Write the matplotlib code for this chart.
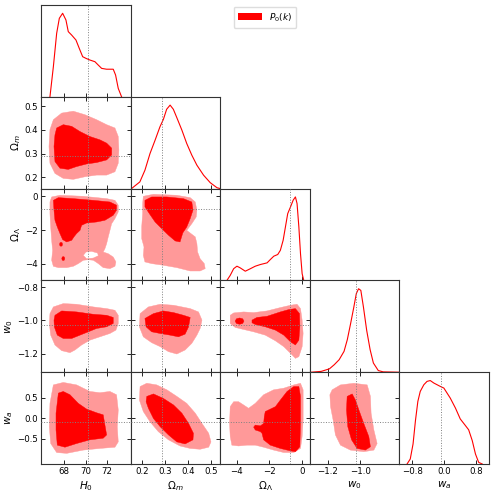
import numpy as np
import matplotlib.pyplot as plt
from matplotlib.path import Path
from matplotlib.patches import PathPatch, Patch

# parameters
labels = [r'$H_0$', r'$\Omega_m$', r'$\Omega_\Lambda$', r'$w_0$', r'$w_a$']
limits = [(65.82, 74.23), (0.152, 0.54), (-5.0, 0.47), (-1.31, -0.76), (-1.12, 1.12)]
fiducial = [70.2, 0.29, -0.77, -1.025, -0.09]
xticks = [[68, 70, 72], [0.2, 0.3, 0.4, 0.5], [-4, -2, 0], [-1.2, -1.0], [-0.8, 0.0, 0.8]]
yticks = [[], [0.2, 0.3, 0.4, 0.5], [-4, -2, 0], [-1.2, -1.0, -0.8], [-0.5, 0.0, 0.5]]

# 1D marginals (normalised to peak = 1)
h0_x = [66.66, 66.98, 67.29, 67.54, 67.85, 68.16, 68.38, 68.69, 69.10, 69.41, 69.73,
        70.04, 70.41, 70.88, 71.19, 71.51, 71.97, 72.60, 72.82, 73.07, 73.38]
h0_pdf = [0.0, 0.36, 0.76, 0.94, 1.0, 0.92, 0.78, 0.74, 0.68, 0.58, 0.48,
          0.46, 0.44, 0.42, 0.38, 0.34, 0.33, 0.33, 0.26, 0.10, 0.0]
om_x = [0.156, 0.192, 0.214, 0.236, 0.258, 0.279, 0.294, 0.308, 0.323, 0.337, 0.352,
        0.374, 0.395, 0.417, 0.439, 0.468, 0.497, 0.526, 0.54]
om_pdf = [0.0, 0.08, 0.22, 0.42, 0.58, 0.74, 0.83, 0.95, 1.0, 0.95, 0.85,
          0.70, 0.54, 0.40, 0.28, 0.16, 0.07, 0.01, 0.0]
ol_x = [-4.59, -4.39, -4.18, -3.98, -3.78, -3.47, -3.16, -2.86, -2.55, -2.14, -1.94,
        -1.73, -1.49, -1.33, -1.16, -1.02, -0.88, -0.71, -0.55, -0.41, -0.31, -0.20,
        -0.10, 0.0, 0.10]
ol_pdf = [0.0, 0.06, 0.14, 0.17, 0.15, 0.11, 0.14, 0.17, 0.19, 0.21, 0.25,
          0.29, 0.31, 0.36, 0.48, 0.64, 0.80, 0.88, 0.96, 1.0, 0.92, 0.64,
          0.32, 0.08, 0.0]
w0_x = [-1.30, -1.24, -1.19, -1.16, -1.13, -1.10, -1.08, -1.06, -1.04, -1.025, -1.011,
        -0.997, -0.981, -0.961, -0.940, -0.920, -0.890, -0.860, -0.765]
w0_pdf = [0.0, 0.01, 0.04, 0.09, 0.15, 0.25, 0.39, 0.58, 0.78, 0.94, 1.0,
          0.98, 0.78, 0.50, 0.27, 0.11, 0.02, 0.004, 0.0]
wa_x = [-0.93, -0.85, -0.78, -0.72, -0.66, -0.60, -0.51, -0.43, -0.35, -0.26, -0.18,
        -0.10, -0.01, 0.07, 0.15, 0.28, 0.40, 0.53, 0.61, 0.70, 0.78, 0.86, 0.95]
wa_pdf = [0.0, 0.06, 0.24, 0.52, 0.75, 0.87, 0.95, 0.99, 1.0, 0.97, 0.95,
          0.93, 0.91, 0.85, 0.79, 0.67, 0.54, 0.46, 0.41, 0.28, 0.12, 0.02, 0.0]

# 2D contours (outer = 95%, inner = 68%)
h0_om_outer = [(66.98, 0.443), (67.76, 0.471), (68.85, 0.479), (69.95, 0.464), (71.04, 0.443),
               (71.98, 0.422), (72.76, 0.408), (73.07, 0.372), (73.13, 0.315), (73.07, 0.259),
               (72.76, 0.223), (71.98, 0.209), (71.04, 0.209), (69.95, 0.202), (68.85, 0.191),
               (67.91, 0.195), (67.13, 0.216), (66.66, 0.259), (66.57, 0.330), (66.66, 0.401)]
h0_om_inner = [(67.29, 0.408), (67.91, 0.422), (68.70, 0.415), (69.48, 0.393), (70.41, 0.372),
               (71.35, 0.358), (71.98, 0.344), (72.45, 0.323), (72.45, 0.294), (71.98, 0.273),
               (71.04, 0.262), (70.10, 0.256), (69.16, 0.245), (68.38, 0.233), (67.60, 0.238),
               (67.13, 0.266), (67.04, 0.330), (67.13, 0.379)]

h0_ol_outer = [(66.82, -0.03), (67.60, 0.07), (69.79, 0.01), (71.98, -0.13), (72.76, -0.23),
               (73.07, -0.52), (73.07, -0.92), (72.76, -1.32), (72.45, -1.62), (72.29, -2.02),
               (72.13, -2.41), (71.98, -2.81), (71.82, -3.11), (71.66, -3.31), (72.13, -3.41),
               (72.60, -3.61), (72.85, -3.90), (72.76, -4.16), (72.29, -4.30), (71.66, -4.24),
               (71.20, -4.00), (70.73, -3.80), (70.26, -3.77), (69.79, -3.80), (69.32, -4.00),
               (68.85, -4.16), (68.23, -4.24), (67.45, -4.24), (66.98, -4.16), (66.82, -3.80),
               (66.91, -3.21), (66.82, -2.61), (66.73, -1.82), (66.66, -1.02), (66.66, -0.33)]
h0_ol_hole = [(69.79, -3.51), (70.04, -3.31), (70.57, -3.27), (71.13, -3.37), (71.20, -3.53),
              (70.73, -3.67), (70.10, -3.71)]
h0_ol_inner = [(66.98, -0.23), (67.45, -0.07), (68.85, -0.13), (70.73, -0.23), (72.29, -0.33),
               (72.91, -0.52), (72.91, -0.82), (72.60, -1.12), (71.82, -1.42), (71.04, -1.52),
               (70.10, -1.58), (69.63, -1.72), (69.48, -2.02), (69.16, -2.21), (68.91, -2.41),
               (68.70, -2.61), (68.23, -2.71), (67.85, -2.57), (67.60, -2.21), (67.35, -1.82),
               (67.13, -1.42), (67.04, -0.82)]
h0_ol_island1 = [(67.56, -2.85), (67.60, -2.76), (67.70, -2.73), (67.80, -2.76), (67.84, -2.85),
                 (67.80, -2.94), (67.70, -2.97), (67.60, -2.94)]
h0_ol_island2 = [(67.77, -3.70), (67.81, -3.61), (67.91, -3.58), (68.01, -3.61), (68.05, -3.70),
                 (68.01, -3.79), (67.91, -3.82), (67.81, -3.79)]

om_ol_outer = [(0.207, 0.01), (0.251, 0.13), (0.352, 0.07), (0.410, -0.07), (0.432, -0.33),
               (0.439, -0.82), (0.436, -1.22), (0.417, -1.62), (0.395, -2.02), (0.432, -2.41),
               (0.439, -2.81), (0.442, -3.31), (0.453, -3.71), (0.471, -4.00), (0.475, -4.30),
               (0.453, -4.44), (0.410, -4.44), (0.352, -4.24), (0.294, -4.10), (0.243, -4.00),
               (0.214, -3.90), (0.207, -3.51), (0.210, -3.01), (0.200, -2.51), (0.200, -1.82),
               (0.204, -1.02), (0.204, -0.43)]
om_ol_inner = [(0.214, -0.23), (0.243, -0.03), (0.309, -0.03), (0.381, -0.13), (0.417, -0.33),
               (0.422, -0.82), (0.410, -1.32), (0.395, -1.82), (0.378, -2.17), (0.366, -2.71),
               (0.345, -2.65), (0.316, -2.31), (0.287, -1.92), (0.258, -1.52), (0.233, -1.02),
               (0.214, -0.62)]

h0_w0_outer = [(66.98, -0.919), (67.91, -0.899), (69.16, -0.903), (70.73, -0.919), (71.98, -0.929),
               (72.76, -0.939), (73.07, -0.969), (73.07, -1.018), (72.85, -1.058), (72.29, -1.078),
               (71.35, -1.098), (70.41, -1.118), (69.63, -1.147), (69.01, -1.177), (68.54, -1.193),
               (67.76, -1.181), (67.13, -1.147), (66.73, -1.088), (66.60, -1.018), (66.66, -0.959)]
h0_w0_inner = [(67.13, -0.969), (67.76, -0.943), (69.16, -0.949), (70.73, -0.963), (71.98, -0.969),
               (72.60, -0.982), (72.60, -1.018), (71.98, -1.038), (71.04, -1.048), (70.26, -1.068),
               (69.48, -1.088), (68.70, -1.108), (67.91, -1.108), (67.35, -1.088), (67.07, -1.038),
               (67.04, -0.998)]

om_w0_outer = [(0.193, -0.959), (0.229, -0.919), (0.280, -0.903), (0.338, -0.909), (0.410, -0.929),
               (0.446, -0.949), (0.461, -0.998), (0.453, -1.048), (0.439, -1.088), (0.417, -1.137),
               (0.388, -1.177), (0.352, -1.201), (0.316, -1.187), (0.280, -1.157), (0.243, -1.133),
               (0.207, -1.098), (0.190, -1.038)]
om_w0_inner = [(0.214, -0.988), (0.251, -0.959), (0.294, -0.943), (0.338, -0.953), (0.381, -0.969),
               (0.410, -0.982), (0.403, -1.038), (0.388, -1.082), (0.359, -1.098), (0.323, -1.088),
               (0.280, -1.078), (0.243, -1.068), (0.219, -1.038)]

ol_w0_outer = [(-4.39, -0.969), (-4.18, -0.955), (-3.57, -0.949), (-2.96, -0.953), (-2.14, -0.943),
               (-1.33, -0.923), (-0.71, -0.909), (-0.31, -0.903), (-0.10, -0.929), (0.0, -0.998),
               (0.06, -1.078), (0.0, -1.157), (-0.20, -1.217), (-0.41, -1.227), (-0.71, -1.197),
               (-1.12, -1.157), (-1.63, -1.122), (-2.25, -1.088), (-2.96, -1.068), (-3.57, -1.054),
               (-4.08, -1.042), (-4.39, -1.018)]
ol_w0_inner = [(-3.06, -0.998), (-2.76, -0.982), (-2.14, -0.975), (-1.33, -0.949), (-0.82, -0.935),
               (-0.41, -0.929), (-0.16, -0.959), (-0.14, -1.038), (-0.20, -1.118), (-0.41, -1.147),
               (-0.71, -1.128), (-1.12, -1.088), (-1.63, -1.058), (-2.25, -1.038), (-2.86, -1.024),
               (-3.06, -1.014)]
ol_w0_island = [(-4.09, -1.004), (-4.01, -0.990), (-3.82, -0.985), (-3.63, -0.990), (-3.55, -1.004),
                (-3.63, -1.018), (-3.82, -1.023), (-4.01, -1.018)]

h0_wa_outer = [(66.98, 0.81), (67.91, 0.87), (69.16, 0.81), (70.41, 0.65), (71.35, 0.62),
               (72.29, 0.65), (72.91, 0.57), (73.07, 0.20), (72.98, -0.21), (73.07, -0.58),
               (72.76, -0.71), (71.35, -0.74), (69.79, -0.78), (68.23, -0.86), (67.29, -0.84),
               (66.73, -0.62), (66.60, -0.21), (66.66, 0.36)]
h0_wa_inner = [(67.45, 0.61), (67.91, 0.65), (68.54, 0.57), (69.32, 0.36), (70.10, 0.22),
               (71.04, 0.13), (71.66, 0.08), (71.82, -0.17), (71.98, -0.41), (71.66, -0.49),
               (70.41, -0.53), (69.16, -0.62), (68.07, -0.71), (67.35, -0.66), (67.23, -0.29),
               (67.23, 0.12)]

om_wa_outer = [(0.193, 0.77), (0.222, 0.85), (0.265, 0.81), (0.309, 0.69), (0.352, 0.53),
               (0.395, 0.36), (0.432, 0.12), (0.461, -0.13), (0.490, -0.37), (0.500, -0.58),
               (0.490, -0.71), (0.453, -0.76), (0.410, -0.74), (0.366, -0.68), (0.316, -0.53),
               (0.272, -0.33), (0.236, -0.09), (0.207, 0.16), (0.190, 0.44)]
om_wa_inner = [(0.222, 0.53), (0.251, 0.59), (0.294, 0.48), (0.338, 0.32), (0.374, 0.12),
               (0.403, -0.13), (0.424, -0.37), (0.422, -0.53), (0.388, -0.63), (0.352, -0.58),
               (0.316, -0.41), (0.280, -0.21), (0.251, -0.01), (0.229, 0.24), (0.219, 0.40)]

ol_wa_outer = [(-4.39, 0.28), (-4.18, 0.40), (-3.88, 0.40), (-3.57, 0.32), (-3.27, 0.24),
               (-2.86, 0.36), (-2.35, 0.57), (-1.74, 0.69), (-1.12, 0.73), (-0.51, 0.81),
               (-0.10, 0.85), (0.06, 0.69), (0.06, -0.05), (0.0, -0.45), (-0.10, -0.74),
               (-0.51, -0.84), (-1.12, -0.84), (-1.74, -0.78), (-2.35, -0.71), (-2.86, -0.66),
               (-3.37, -0.66), (-3.88, -0.68), (-4.29, -0.66), (-4.39, -0.45), (-4.43, -0.13)]
ol_wa_inner = [(-2.25, 0.16), (-1.94, 0.22), (-1.63, 0.28), (-1.33, 0.44), (-0.92, 0.65),
               (-0.51, 0.77), (-0.20, 0.77), (-0.10, 0.53), (-0.10, -0.13), (-0.14, -0.70),
               (-0.41, -0.82), (-0.71, -0.80), (-1.33, -0.74), (-1.94, -0.66), (-2.35, -0.53),
               (-2.45, -0.37), (-2.55, -0.33), (-2.86, -0.29), (-2.96, -0.22), (-2.86, -0.17),
               (-2.55, -0.19), (-2.35, -0.13), (-2.31, 0.04)]

w0_wa_outer = [(-1.173, 0.69), (-1.122, 0.81), (-1.040, 0.85), (-0.958, 0.81), (-0.938, 0.53),
               (-0.934, 0.12), (-0.917, -0.29), (-0.897, -0.62), (-0.917, -0.78), (-0.979, -0.82),
               (-1.061, -0.78), (-1.122, -0.66), (-1.153, -0.41), (-1.167, -0.05), (-1.183, 0.28),
               (-1.187, 0.57)]
w0_wa_inner = [(-1.081, 0.53), (-1.050, 0.59), (-1.030, 0.44), (-1.009, 0.20), (-0.979, -0.13),
               (-0.948, -0.45), (-0.938, -0.70), (-0.969, -0.78), (-1.020, -0.74), (-1.054, -0.53),
               (-1.077, -0.21), (-1.085, 0.20)]

LIGHT = '#ff9999'
DARK = '#ff0000'


def ring_area(ring):
    x, y = ring[:, 0], ring[:, 1]
    return 0.5 * np.sum(x * np.roll(y, -1) - np.roll(x, -1) * y)


def fill_region(ax, outer, color, holes=()):
    """fill a closed contour, optionally with holes cut out"""
    verts, codes = [], []
    for k, ring in enumerate([outer, *holes]):
        ring = np.asarray(ring, float)
        if (k == 0) != (ring_area(ring) > 0):
            ring = ring[::-1]
        verts.extend(ring.tolist() + [ring[0].tolist()])
        codes.extend([Path.MOVETO] + [Path.LINETO] * (len(ring) - 1) + [Path.CLOSEPOLY])
    ax.add_patch(PathPatch(Path(verts, codes), facecolor=color, edgecolor=color,
                           lw=0.3, joinstyle='round'))


marginals = {0: (h0_x, h0_pdf), 1: (om_x, om_pdf), 2: (ol_x, ol_pdf),
             3: (w0_x, w0_pdf), 4: (wa_x, wa_pdf)}
# (outer, holes in outer, inner pieces)
contours = {
    (1, 0): (h0_om_outer, [], [h0_om_inner]),
    (2, 0): (h0_ol_outer, [h0_ol_hole], [h0_ol_inner, h0_ol_island1, h0_ol_island2]),
    (2, 1): (om_ol_outer, [], [om_ol_inner]),
    (3, 0): (h0_w0_outer, [], [h0_w0_inner]),
    (3, 1): (om_w0_outer, [], [om_w0_inner]),
    (3, 2): (ol_w0_outer, [], [ol_w0_inner, ol_w0_island]),
    (4, 0): (h0_wa_outer, [], [h0_wa_inner]),
    (4, 1): (om_wa_outer, [], [om_wa_inner]),
    (4, 2): (ol_wa_outer, [], [ol_wa_inner]),
    (4, 3): (w0_wa_outer, [], [w0_wa_inner]),
}

n = len(labels)
fig = plt.figure(figsize=(4.94, 4.94), dpi=100)
gs = fig.add_gridspec(n, n, left=0.083, right=0.99, bottom=0.0607, top=0.99,
                      wspace=0, hspace=0)

for i in range(n):
    for j in range(i + 1):
        ax = fig.add_subplot(gs[i, j])
        ax.set_xlim(limits[j])
        ax.set_xticks(xticks[j])
        if i == j:
            xs, ps = marginals[i]
            ax.plot(xs, ps, color='red', lw=0.8)
            ax.set_ylim(0, 1.1)
            ax.set_yticks([])
        else:
            outer, holes, inner = contours[(i, j)]
            fill_region(ax, outer, LIGHT, holes)
            for piece in inner:
                fill_region(ax, piece, DARK)
            ax.set_ylim(limits[i])
            ax.set_yticks(yticks[i])
            ax.axhline(fiducial[i], color='gray', ls=':', lw=0.7, zorder=5)
        ax.axvline(fiducial[j], color='gray', ls=':', lw=0.7, zorder=5)

        ax.tick_params(direction='in', length=3, width=0.6, labelsize=6.2,
                       top=(i != j), right=(i != j), pad=2.5)
        for sp in ax.spines.values():
            sp.set_linewidth(0.8)
            sp.set_color('#333333')
        if i == n - 1:
            ax.set_xlabel(labels[j], fontsize=7.5, labelpad=2)
        else:
            ax.tick_params(labelbottom=False)
        if j == 0 and i > 0:
            ax.set_ylabel(labels[i], fontsize=7.5, labelpad=1)
        else:
            ax.tick_params(labelleft=False)

fig.legend(handles=[Patch(facecolor='red', edgecolor='none')], labels=[r'$P_0(k)$'],
           loc='upper center', bbox_to_anchor=(265 / 494, 1 - 2 / 494), fontsize=6.5,
           handlelength=2.6, handleheight=0.8, borderpad=0.5, framealpha=1,
           edgecolor='#dddddd', fancybox=True)

fig.savefig('out.png', dpi=100)
